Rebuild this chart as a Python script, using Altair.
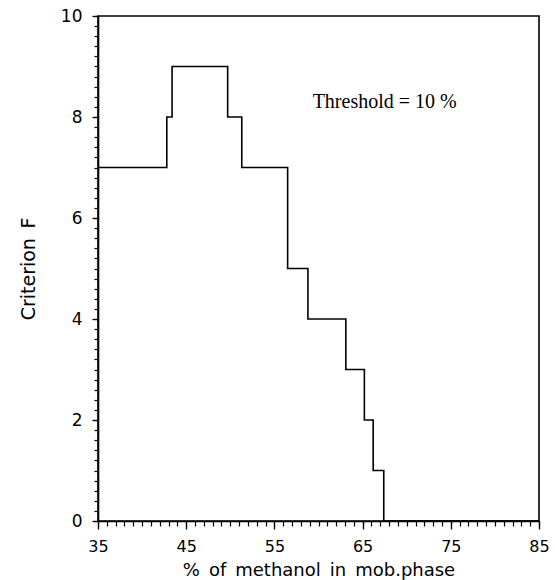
import altair as alt
import pandas as pd

# Step boundaries (% methanol) and criterion F level holding from each boundary onward
x_breaks = [35, 42.8, 43.4, 49.7, 51.3, 56.5, 58.8, 63.1, 65.2, 66.2, 67.4, 85]
f_levels = [7, 8, 9, 8, 7, 5, 4, 3, 2, 1, 0, 0]

x_major = [35, 45, 55, 65, 75, 85]
y_major = [0, 2, 4, 6, 8, 10]
x_minor = list(range(35, 86))
y_minor = [round(i * 0.2, 1) for i in range(51)]

annot_text = ["Threshold = 10 %"]
annot_x = [67.5]
annot_y = [8.3]

df = pd.DataFrame({"x": x_breaks, "f": f_levels})
ann = pd.DataFrame({"x": annot_x, "y": annot_y, "t": annot_text})

FONT = "DejaVu Sans"
SP = "\u2002"
xscale = alt.Scale(domain=[35, 85], nice=False, zero=False)
yscale = alt.Scale(domain=[0, 10], nice=False)

line = alt.Chart(df).mark_line(interpolate="step-after", color="black", strokeWidth=1.6).encode(
    x=alt.X("x:Q", scale=xscale,
            axis=alt.Axis(orient="bottom", values=x_major, tickSize=8, tickWidth=1.3,
                          labelPadding=9, labelFontSize=16, labelFont=FONT, labelColor="black",
                          domainColor="black", domainWidth=1.6, tickColor="black", grid=False,
                          title=SP.join(["%", "of", "methanol", "in", "mob.phase"]),
                          titleFont=FONT, titleFontSize=18,
                          titleFontWeight="normal", titleColor="black",
                          titleY=54, titleBaseline="alphabetic",
                          labelFlush=False, format="d")),
    y=alt.Y("f:Q", scale=yscale,
            axis=alt.Axis(orient="left", values=y_major, tickSize=6, tickWidth=1.3,
                          labelPadding=10, labelFontSize=17, labelFont=FONT, labelColor="black",
                          domainColor="black", domainWidth=1.6, tickColor="black", grid=False,
                          title="Criterion" + SP + "F", titleFont=FONT, titleFontSize=19,
                          titleFontWeight="normal", titleColor="black", titlePadding=22,
                          labelFlush=False, format="d")),
)

minor = alt.Chart(df).mark_line(opacity=0).encode(
    x=alt.X("x:Q", scale=xscale,
            axis=alt.Axis(orient="bottom", values=x_minor, tickSize=5, tickWidth=1.2,
                          tickColor="black", labels=False, domain=False, grid=False, title=None)),
    y=alt.Y("f:Q", scale=yscale,
            axis=alt.Axis(orient="left", values=y_minor, tickSize=4, tickWidth=1.2,
                          tickColor="black", labels=False, domain=False, grid=False, title=None)),
)

text = alt.Chart(ann).mark_text(font="Liberation Serif", fontSize=20, color="black", align="center").encode(
    x=alt.X("x:Q", scale=xscale, axis=None),
    y=alt.Y("y:Q", scale=yscale, axis=None),
    text="t:N",
)

chart = (
    alt.layer(line, minor, text)
    .resolve_axis(x="independent", y="independent")
    .properties(
        width=441, height=505,
        autosize=alt.AutoSizeParams(type="none"),
        padding={"left": 98, "top": 16, "right": 14, "bottom": 59},
        background="white",
    )
    .configure_view(stroke="black", strokeWidth=1.6)
)

chart.save("out.html", embed_options={"renderer": "svg", "actions": False})
